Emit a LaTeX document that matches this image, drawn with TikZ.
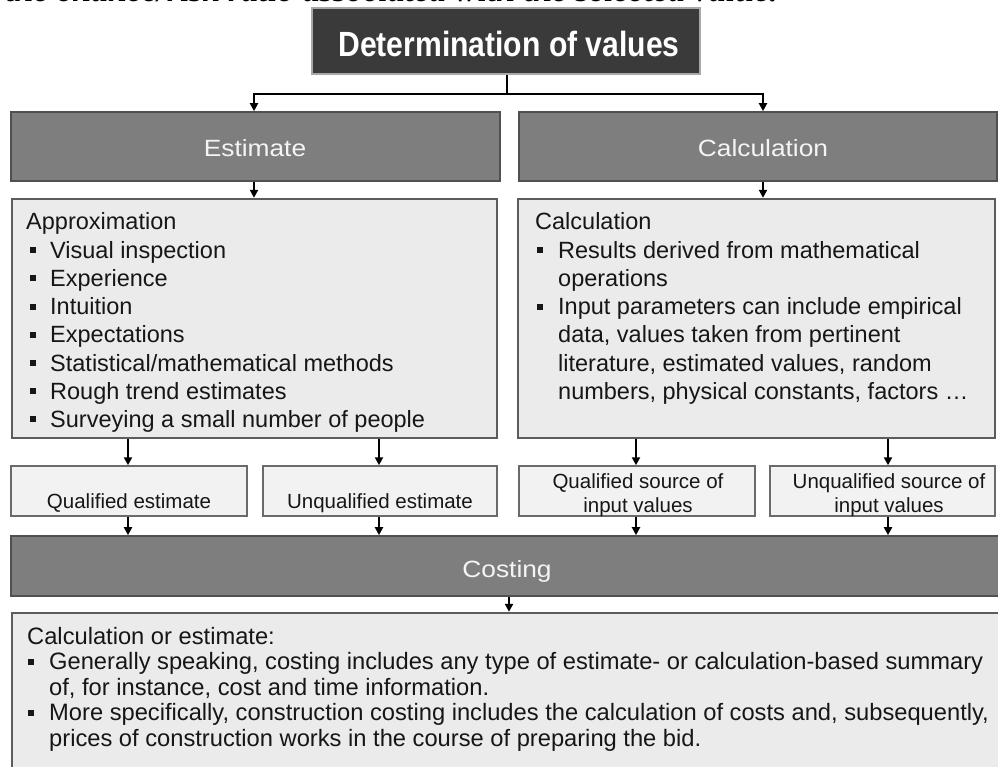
\documentclass[tikz,border=0pt]{standalone}
\usepackage{fontspec}
\setmainfont{Liberation Sans}
\newfontfamily\titlefont[FakeStretch=0.86]{Liberation Sans}
\newfontfamily\headfont[FakeStretch=1.12]{Liberation Sans}
\newfontfamily\capfont{Liberation Serif}
\usetikzlibrary{arrows.meta,fit}

\definecolor{titlefill}{HTML}{3A3A3A}
\definecolor{titleline}{HTML}{A8A8A8}
\definecolor{headfill}{HTML}{7E7E7E}
\definecolor{headline}{HTML}{505050}
\definecolor{bodyfill}{HTML}{EBEBEB}
\definecolor{bodyline}{HTML}{5C5C5C}
\definecolor{tagfill}{HTML}{F2F2F2}
\definecolor{tagline}{HTML}{6A6A6A}
\definecolor{headtext}{HTML}{F4F4F4}
\definecolor{ink}{HTML}{161616}

% small square list bullet
\newcommand{\sqbul}[1][20pt]{\makebox[#1][l]{\raisebox{5pt}{\rule{6pt}{6pt}}}}

\tikzset{
  boxbase/.style={rectangle, inner sep=0pt},
  titlebox/.style={boxbase, fill=titlefill, draw=titleline, line width=2pt},
  headbox/.style={boxbase, fill=headfill, draw=headline, line width=1.6pt},
  bodybox/.style={boxbase, fill=bodyfill, draw=bodyline, line width=2.4pt},
  tagbox/.style={boxbase, fill=tagfill, draw=tagline, line width=1.5pt},
  titletext/.style={inner sep=0pt, text=white, font=\titlefont\bfseries\fontsize{35}{40}\selectfont},
  headtxt/.style={inner sep=0pt, text=headtext, font=\headfont\fontsize{23.5}{28}\selectfont},
  txt/.style={inner sep=0pt, anchor=base west, text=ink, font=\fontsize{23.5}{28}\selectfont},
  smalltxt/.style={inner sep=0pt, anchor=base, text=ink, font=\fontsize{20.5}{24}\selectfont},
  foottxt/.style={inner sep=0pt, anchor=base west, text=ink, font=\fontsize{23.7}{25.5}\selectfont},
  link/.style={line width=2pt, draw=black},
  arr/.style={link, -{Triangle[length=8pt,width=8pt]}},
}

\begin{document}
\begin{tikzpicture}[x=1pt,y=-1pt]
\useasboundingbox (0,0) rectangle (998,767);
\clip (0,0) rectangle (998,767);
\fill[white] (0,0) rectangle (998,767);

% running caption line of the page, cut by the top edge
\node[inner sep=0pt, anchor=base east, font=\capfont\bfseries\itshape\fontsize{34}{38}\selectfont] (caption)
  at (778,1.5) {the chance/risk ratio associated with the selected value.};

% boxes
\node[titlebox, fit={(312,8) (700,74)}] (title) {};
\node[headbox, fit={(11,112) (500,181)}] (esthd) {};
\node[headbox, fit={(519,112) (997,181)}] (calchd) {};
\node[bodybox, fit={(12,199) (497,438)}] (estbody) {};
\node[bodybox, fit={(518,199) (995,438)}] (calcbody) {};
\node[tagbox, fit={(11,466) (247,516)}] (qest) {};
\node[tagbox, fit={(263,466) (497,516)}] (uest) {};
\node[tagbox, fit={(519,466) (755,516)}] (qsrc) {};
\node[tagbox, fit={(770,466) (995,516)}] (usrc) {};
\node[headbox, fit={(11,536) (1004,596)}] (cost) {};
\node[bodybox, fit={(12,613) (1004,790)}] (costbody) {};

% box titles
\node[titletext, anchor=base] (titlet) at (509,57) {Determination of values};
\node[headtxt, anchor=base] (esthdt) at (255,157) {Estimate};
\node[headtxt, anchor=base] (calchdt) at (763,157) {Calculation};
\node[headtxt, anchor=base] (costt) at (507,577) {Costing};

% estimate contents
\node[txt] (apx) at (26,230) {Approximation};
\foreach \t [count=\i] in {Visual inspection, Experience, Intuition, Expectations,
    Statistical/mathematical methods, Rough trend estimates,
    Surveying a small number of people}
  \node[txt] (apx\i) at (30,{230+\i*28.2}) {\sqbul\t};

% calculation contents
\node[txt] (cal) at (535,230) {Calculation};
\node[txt] (cal1) at (537,258.2) {\sqbul[21pt]Results derived from mathematical};
\node[txt] (cal2) at (558,286.4) {operations};
\node[txt] (cal3) at (537,314.6) {\sqbul[21pt]Input parameters can include empirical};
\node[txt] (cal4) at (558,342.8) {data, values taken from pertinent};
\node[txt] (cal5) at (558,371.0) {literature, estimated values, random};
\node[txt] (cal6) at (558,399.2) {numbers, physical constants, factors …};

% outcome labels
\node[smalltxt] (qestt) at (129,508) {Qualified estimate};
\node[smalltxt] (uestt) at (380,508) {Unqualified estimate};
\node[smalltxt] (qsrct1) at (638,488) {Qualified source of};
\node[smalltxt] (qsrct2) at (638,512) {input values};
\node[smalltxt] (usrct1) at (889,488) {Unqualified source of};
\node[smalltxt] (usrct2) at (889,512) {input values};

% costing contents
\node[foottxt] (cb) at (27,644) {Calculation or estimate:};
\node[foottxt] (cb1) at (28,669.5) {\sqbul[21pt]Generally speaking, costing includes any type of estimate- or calculation-based summary};
\node[foottxt] (cb2) at (49,695) {of, for instance, cost and time information.};
\node[foottxt] (cb3) at (28,720.5) {\sqbul[21pt]More specifically, construction costing includes the calculation of costs and, subsequently,};
\node[foottxt] (cb4) at (49,746) {prices of construction works in the course of preparing the bid.};

% connectors
\coordinate (split) at (507,94);
\coordinate (xl) at (254,0);
\coordinate (xr) at (763,0);
\coordinate (xa) at (128,0);
\coordinate (xb) at (379,0);
\coordinate (xc) at (636,0);
\coordinate (xd) at (888,0);
\coordinate (xm) at (509,0);

\draw[link] (title.south -| split) -- (split);
\draw[arr] (split) -| (esthd.north -| xl);
\draw[arr] (split) -| (calchd.north -| xr);
\draw[arr] (esthd.south -| xl) -- (estbody.north -| xl);
\draw[arr] (calchd.south -| xr) -- (calcbody.north -| xr);

\draw[arr] (estbody.south -| xa) -- (qest.north -| xa);
\draw[arr] (estbody.south -| xb) -- (uest.north -| xb);
\draw[arr] (calcbody.south -| xc) -- (qsrc.north -| xc);
\draw[arr] (calcbody.south -| xd) -- (usrc.north -| xd);

\draw[arr] (qest.south -| xa) -- (cost.north -| xa);
\draw[arr] (uest.south -| xb) -- (cost.north -| xb);
\draw[arr] (qsrc.south -| xc) -- (cost.north -| xc);
\draw[arr] (usrc.south -| xd) -- (cost.north -| xd);

\draw[arr] (cost.south -| xm) -- (costbody.north -| xm);
\end{tikzpicture}
\end{document}
